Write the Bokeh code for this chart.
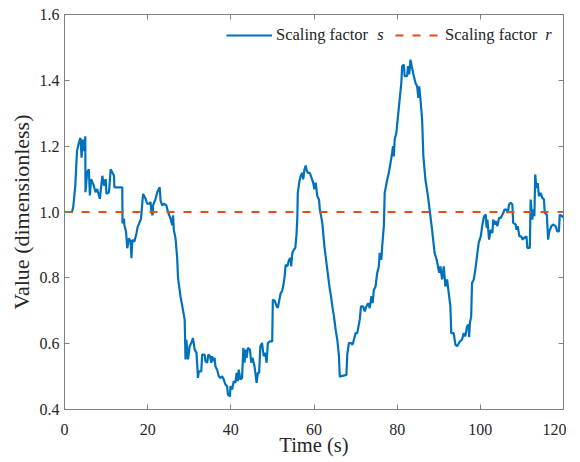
from bokeh.plotting import figure
from bokeh.models import (Range1d, FixedTicker, LinearAxis, Legend, LegendItem,
                          Label, ColumnDataSource)
from bokeh.embed import file_html
from bokeh.resources import INLINE

# ---------------- data ----------------
time_s = [0, 1.8, 2.1, 2.6, 3.0, 3.45, 3.85, 4.1, 4.4, 4.65, 5.0, 5.05, 5.45, 5.85, 6.1, 6.4,
          7.05, 7.45, 7.85, 8.5, 9.1, 9.5, 9.9, 10.1, 10.7, 11.1, 11.5, 11.9, 12.0, 13.9,
          13.95, 14.3, 14.4, 14.8, 15.1, 15.5, 15.9, 16.1, 16.3, 16.8, 17.3, 17.6, 18.1,
          18.4, 18.9, 19.5, 19.9, 20.3, 20.7, 20.9, 21.2, 21.3, 21.9, 22.3, 22.9, 23.1,
          23.5, 23.9, 24.5, 24.9, 25.5, 25.9, 26.1, 26.3, 26.7, 27.1, 27.3, 27.9, 28.9,
          29.1, 29.3, 29.7, 30.1, 30.5, 30.9, 31.3, 31.75, 32.1, 32.3, 32.9, 33.1, 33.7,
          33.9, 34.3, 34.6, 35.0, 35.3, 35.5, 35.8, 36.1, 36.3, 36.7, 37.1, 37.5, 37.9,
          38.3, 38.7, 39.1, 39.3, 39.8, 39.9, 40.3, 40.7, 41.1, 41.4, 41.7, 41.9, 42.3,
          42.7, 43.0, 43.3, 43.6, 43.8, 44.1, 44.6, 44.9, 45.2, 45.7, 46.2, 46.5, 46.8,
          47.1, 47.5, 47.9, 48.3, 48.6, 48.9, 49.4, 49.95, 50.1, 50.6, 51.0, 51.3, 51.6,
          52.0, 52.3, 52.6, 52.9, 53.2, 53.6, 54.0, 54.4, 54.5, 54.8, 55.2, 55.5, 55.8,
          56.0, 56.1, 56.5, 56.8, 57.2, 57.4, 57.7, 58.0, 58.2, 58.5, 59.0, 59.4, 59.8,
          60.1, 60.4, 60.8, 61.2, 61.4, 62.0, 62.5, 63.2, 63.8, 64.1, 64.4, 64.8, 65.2,
          65.6, 66.0, 66.2, 67.8, 68.0, 68.4, 68.9, 69.2, 69.4, 70.0, 70.4, 71.0, 71.3,
          71.8, 72.2, 72.6, 73.0, 73.4, 73.8, 74.1, 74.4, 74.8, 75.2, 75.6, 75.8, 76.2,
          76.4, 76.8, 77.0, 77.6, 78.0, 78.4, 78.8, 79.0, 79.2, 79.4, 79.8, 80.2, 80.6,
          81.0, 81.2, 81.6, 81.8, 82.4, 82.6, 82.9, 83.2, 83.5, 84.0, 84.4, 84.8, 85.1,
          85.3, 85.6, 86.0, 86.3, 86.8, 87.4, 87.9, 88.4, 89.0, 89.5, 89.8, 90.1, 90.4,
          90.8, 91.2, 91.6, 92.0, 92.4, 92.8, 93.0, 93.6, 94.0, 94.4, 95.1, 95.6, 96.0,
          96.4, 96.8, 97.2, 97.3, 97.5, 97.8, 98.0, 98.4, 98.8, 99.2, 99.6, 100.1, 100.5,
          100.9, 101.3, 101.5, 101.7, 102.1, 102.5, 102.9, 103.1, 103.4, 103.7, 104.1,
          104.5, 104.9, 105.3, 105.5, 105.8, 106.3, 106.6, 106.9, 107.3, 107.7, 107.9,
          108.5, 108.7, 109.0, 109.4, 109.8, 110.2, 110.5, 111.1, 111.3, 111.9, 112.1,
          112.5, 112.7, 113.0, 113.2, 113.5, 113.8, 114.1, 114.5, 114.9, 115.3, 115.5,
          116.0, 116.3, 116.6, 117.1, 117.5, 118.1, 118.5, 118.9, 119.1, 119.7, 120.0]

scaling_s = [1.0, 1.0, 1.015, 1.08, 1.185, 1.21, 1.225, 1.165, 1.22, 1.185, 1.23, 1.06, 1.12,
             1.13, 1.05, 1.10, 1.08, 1.06, 1.07, 1.04, 1.11, 1.08, 1.10, 1.055, 1.06, 1.13,
             1.12, 1.11, 1.075, 1.075, 0.965, 0.98, 0.96, 0.94, 0.89, 0.92, 0.91, 0.86,
             0.915, 0.91, 0.935, 0.955, 0.97, 0.98, 1.055, 1.04, 1.025, 1.025, 1.03, 1.0,
             0.99, 1.02, 1.04, 1.06, 1.075, 1.035, 1.02, 1.025, 1.02, 1.0, 0.98, 0.96, 0.99,
             0.945, 0.92, 0.86, 0.80, 0.744, 0.673, 0.552, 0.612, 0.552, 0.592, 0.602, 0.617,
             0.582, 0.572, 0.496, 0.516, 0.516, 0.567, 0.567, 0.547, 0.542, 0.567, 0.562,
             0.542, 0.562, 0.547, 0.557, 0.531, 0.521, 0.501, 0.496, 0.501, 0.491, 0.476,
             0.471, 0.445, 0.44, 0.471, 0.461, 0.486, 0.481, 0.511, 0.486, 0.521, 0.491,
             0.496, 0.587, 0.542, 0.582, 0.557, 0.587, 0.582, 0.542, 0.557, 0.531, 0.481,
             0.511, 0.511, 0.592, 0.602, 0.562, 0.572, 0.542, 0.602, 0.607, 0.607, 0.734,
             0.729, 0.714, 0.709, 0.729, 0.754, 0.759, 0.775, 0.80, 0.84, 0.835, 0.855, 0.86,
             0.835, 0.876, 0.886, 0.891, 0.932, 0.987, 1.058, 1.094, 1.109, 1.119, 1.099,
             1.129, 1.141, 1.129, 1.119, 1.119, 1.104, 1.089, 1.069, 1.089, 1.048, 1.038,
             1.008, 0.967, 0.896, 0.825, 0.765, 0.744, 0.714, 0.683, 0.643, 0.612, 0.562,
             0.50, 0.505, 0.567, 0.602, 0.602, 0.597, 0.602, 0.632, 0.632, 0.673, 0.713,
             0.713, 0.698, 0.713, 0.723, 0.708, 0.744, 0.723, 0.764, 0.774, 0.815, 0.835,
             0.876, 0.855, 0.896, 0.957, 1.058, 1.098, 1.119, 1.149, 1.18, 1.2, 1.169, 1.22,
             1.24, 1.291, 1.342, 1.392, 1.443, 1.448, 1.413, 1.413, 1.443, 1.418, 1.463,
             1.443, 1.413, 1.392, 1.382, 1.347, 1.382, 1.342, 1.281, 1.169, 1.098, 1.048,
             0.997, 0.946, 0.876, 0.855, 0.835, 0.815, 0.835, 0.795, 0.835, 0.774, 0.795,
             0.754, 0.713, 0.632, 0.632, 0.597, 0.592, 0.607, 0.612, 0.632, 0.622, 0.652,
             0.658, 0.62, 0.663, 0.683, 0.784, 0.794, 0.825, 0.866, 0.906, 0.926, 0.962,
             0.987, 0.992, 0.952, 0.977, 0.916, 0.946, 0.936, 0.977, 0.962, 0.972, 0.957,
             0.982, 0.982, 0.992, 0.997, 1.007, 1.007, 0.997, 1.023, 1.028, 1.023, 0.967,
             0.962, 0.946, 0.957, 0.926, 0.926, 0.916, 0.921, 0.926, 0.891, 0.891, 1.038,
             0.977, 1.007, 0.987, 1.114, 1.073, 1.088, 1.048, 1.058, 1.043, 1.038, 0.997,
             0.992, 0.916, 0.941, 0.957, 0.962, 0.957, 0.941, 0.941, 0.992, 0.987, 0.982]

time_r = [0, 120]
scaling_r = [1.0, 1.0]

x_ticks = [0, 20, 40, 60, 80, 100, 120]
y_ticks = [0.4, 0.6, 0.8, 1.0, 1.2, 1.4, 1.6]
y_tick_labels = {0.4: "0.4", 0.6: "0.6", 0.8: "0.8", 1.0: "1.0", 1.2: "1.2", 1.4: "1.4", 1.6: "1.6"}

x_label = "Time (s)"
y_label = "Value (dimensionless)"
legend_text = "Scaling factor"
legend_sym = ["s", "r"]

# ---------------- styling ----------------
FONT = "Liberation Serif"
BLUE = "#0072BD"
ORANGE = "#D95319"
AXIS_COLOR = "#808080"
TEXT_COLOR = "#262626"

p = figure(width=566, height=460, output_backend="svg", toolbar_location=None,
           x_range=Range1d(0, 120), y_range=Range1d(0.4, 1.6),
           min_border_left=64, min_border_right=3, min_border_top=14, min_border_bottom=51)
p.xgrid.visible = False
p.ygrid.visible = False
p.outline_line_color = AXIS_COLOR
p.outline_line_width = 1
p.background_fill_color = "white"
p.border_fill_color = "white"

src_s = ColumnDataSource(dict(t=time_s, v=scaling_s))
src_r = ColumnDataSource(dict(t=time_r, v=scaling_r))
ls = p.line("t", "v", source=src_s, line_color=BLUE, line_width=2.2)
lr = p.line("t", "v", source=src_r, line_color=ORANGE, line_width=2.2, line_dash="8 9")

def style_axis(ax, show_labels=True):
    ax.axis_line_color = AXIS_COLOR
    ax.major_tick_line_color = AXIS_COLOR
    ax.major_tick_in = 5
    ax.major_tick_out = 0
    ax.minor_tick_line_color = None
    ax.major_label_text_font = FONT
    ax.major_label_text_color = TEXT_COLOR
    if show_labels:
        ax.major_label_text_font_size = "16px"
    else:
        ax.major_label_text_font_size = "1px"
        ax.major_label_standoff = 0

xa = p.xaxis[0]
ya = p.yaxis[0]
xa.ticker = FixedTicker(ticks=x_ticks)
ya.ticker = FixedTicker(ticks=y_ticks)
ya.major_label_overrides = y_tick_labels
style_axis(xa)
style_axis(ya)
xa.major_label_standoff = 14
ya.major_label_standoff = 5
xa.axis_label = x_label
ya.axis_label = y_label
for ax in (xa, ya):
    ax.axis_label_text_font = FONT
    ax.axis_label_text_font_style = "normal"
    ax.axis_label_text_color = TEXT_COLOR
xa.axis_label_text_font_size = "20.5px"
ya.axis_label_text_font_size = "22px"
xa.axis_label_standoff = -4
ya.axis_label_standoff = 3

top = LinearAxis(ticker=FixedTicker(ticks=x_ticks),
                 major_label_overrides={t: "" for t in x_ticks})
right = LinearAxis(ticker=FixedTicker(ticks=y_ticks),
                   major_label_overrides={t: "" for t in y_ticks})
style_axis(top, False)
style_axis(right, False)
p.add_layout(top, "above")
p.add_layout(right, "right")

legend = Legend(items=[LegendItem(label=legend_text, renderers=[ls]),
                       LegendItem(label=legend_text, renderers=[lr])],
                orientation="horizontal", location=(162, 364),
                padding=0, margin=0, spacing=27, glyph_width=46, glyph_height=20,
                label_standoff=4, label_text_font=FONT, label_text_font_size="16.5px",
                label_text_color=TEXT_COLOR, border_line_alpha=0,
                background_fill_alpha=0)
p.add_layout(legend)

for sym, xpos in zip(legend_sym, [75.2, 115.6]):
    p.add_layout(Label(x=xpos, y=1.54, text=sym, text_font=FONT, text_font_size="16.5px",
                       text_font_style="italic", text_color=TEXT_COLOR,
                       text_baseline="middle"))

open("out.html", "w").write(file_html(p, INLINE))
